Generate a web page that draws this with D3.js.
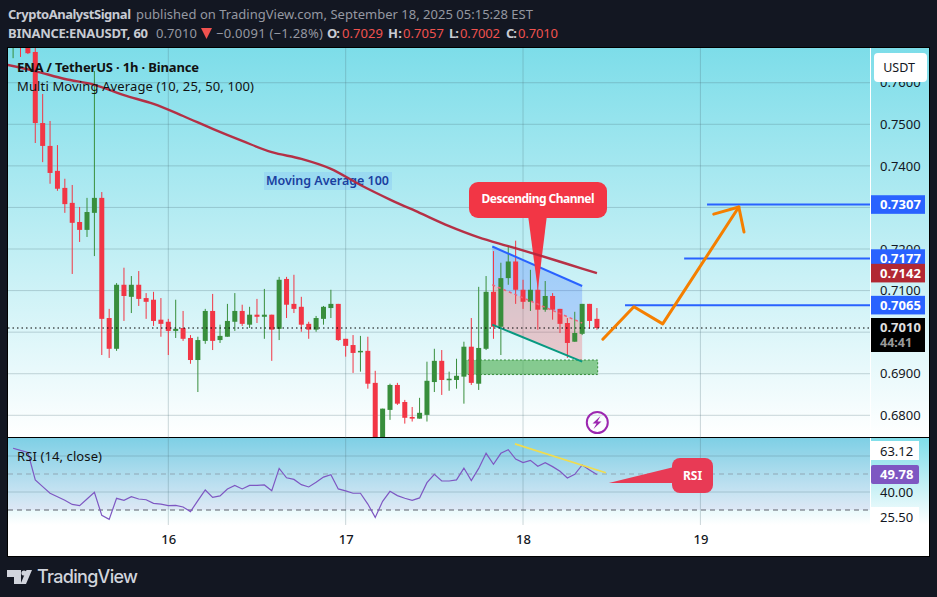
<!DOCTYPE html>
<meta charset="utf-8">
<style>
html, body { margin: 0; padding: 0; background: #131722; }
svg { display: block; }
text { font-family: "Noto Sans", sans-serif; }
</style>
<body>
<script src="https://cdn.jsdelivr.net/npm/d3@7/dist/d3.min.js"></script>
<script>

// candles, one per hour, index 0 = start of day 16
var firstIndex = -21;
var opens  = [.7693,.7727,.7703,.7674,.7503,.7448,.7388,.7347,.7311,.7265,.7246,.7287,.7323,.7034,.6960,.7114,.7085,.7114,.7082,.7078,.7030,
  .7025,.7003,.7010,.6986,.6933,.6979,.7051,.6981,.6989,.7025,.7051,.7018,.7042,.7037,.7042,.7008,.7128,.7068,.7061,.7020,.7006,.7032,.7058,.7068,.6984,.6969,.6953,.6955,.6878,
  .6729,.6813,.6873,.6832,.6796,.6792,.6801,.6880,.6931,.6885,.6885,.6893,.6965,.6876,.6960,.7097,.7013,.7130,.7170,.7102,.7073,.7102,.7054,.7087,.7056,.7022,.6977,.6996,.7068,.7032];
var highs  = [.7751,.7751,.7727,.7684,.7573,.7508,.7450,.7369,.7354,.7301,.7323,.7628,.7337,.7056,.7118,.7155,.7135,.7147,.7094,.7097,.7082,
  .7032,.7078,.7051,.6993,.6989,.7056,.7092,.7018,.7068,.7094,.7066,.7061,.7080,.7104,.7042,.7133,.7133,.7138,.7085,.7025,.7039,.7063,.7102,.7068,.6984,.6993,.6991,.6989,.6907,
  .6816,.6876,.6878,.6837,.6820,.6842,.6929,.6960,.6957,.6905,.6936,.6977,.7034,.7109,.7135,.7195,.7167,.7207,.7220,.7126,.7150,.7155,.7123,.7094,.7056,.7034,.7049,.7068,.7068,.7058];
var lows   = [.7659,.7662,.7669,.7455,.7409,.7357,.7340,.7287,.7140,.7217,.7229,.7183,.6945,.6938,.6955,.7027,.7046,.7063,.7032,.7015,.6989,
  .6945,.6986,.6979,.6924,.6856,.6972,.6957,.6974,.6989,.7003,.7015,.7010,.7022,.6984,.6931,.6981,.7034,.7046,.7001,.6984,.7001,.7018,.7034,.6979,.6941,.6902,.6905,.6864,.6729,
  .6717,.6789,.6825,.6780,.6785,.6792,.6785,.6856,.6849,.6859,.6864,.6828,.6873,.6861,.6957,.6984,.6945,.7114,.7068,.7056,.7051,.7006,.7049,.7030,.6998,.6938,.6977,.6993,.7008,.7006];
var closes = [.7727,.7693,.7671,.7503,.7448,.7383,.7345,.7308,.7263,.7246,.7289,.7323,.7032,.6960,.7114,.7087,.7114,.7080,.7073,.7027,.7020,
  .7003,.7008,.6984,.6933,.6981,.7051,.6979,.6991,.7027,.7051,.7020,.7042,.7037,.7042,.7006,.7126,.7066,.7056,.7018,.7006,.7034,.7061,.7068,.6981,.6967,.6950,.6955,.6876,.6741,
  .6816,.6873,.6828,.6794,.6792,.6806,.6883,.6931,.6885,.6888,.6895,.6965,.6878,.6962,.7097,.7013,.7130,.7170,.7102,.7073,.7102,.7054,.7087,.7054,.7020,.6974,.6998,.7068,.7027,.7010];

// moving average 100, read every few bars
var maIndex = [-22,-18,-14,-10,-6,-2,2,6,10,14,18,22,26,30,34,38,42,46,50,54,58];
var maValue = [.7644,.7628,.7609,.7595,.7570,.7549,.7520,.7489,.7460,.7433,.7417,.7393,.7354,.7319,.7287,.7255,.7228,.7207,.7186,.7164,.7142];

// RSI, same bars as the candles
var rsiValues = [64.3,63.1,62.0,46.7,43.0,39.3,37.4,35.4,33.1,32.4,36.1,39.8,27.0,24.8,36.5,35.4,37.4,36.1,35.7,33.7,33.3,
  32.4,32.6,31.7,29.1,35.2,41.1,37.0,37.8,41.7,43.7,41.7,43.7,43.7,43.9,40.7,53.1,47.9,47.0,44.1,42.8,45.4,48.3,49.6,41.7,40.6,39.3,39.3,33.3,25.9,
  34.8,40.4,38.0,36.5,35.4,36.7,45.2,49.8,46.1,46.1,46.7,53.3,46.3,53.1,61.5,55.4,61.5,63.5,58.3,56.3,57.6,54.3,56.3,54.1,51.5,47.8,49.8,55.0,52.2,49.78];

var dayTicks = [0, 24, 48, 72];
var dayLabels = ["16", "17", "18", "19"];
var priceTicks = [.76,.75,.74,.73,.72,.71,.70,.69,.68];
var rsiGrid = [60, 40];
var rsiTicks = [40];

// user drawings, [bar index, price]
var targetLevels = [.7307, .7177, .7065];
var targetStarts = [72.9, 69.8, 61.8];
var channelIdx = [43.84, 56];
var channelUpper = [.7206, .7111];
var channelMid = [.7114, .7022];
var channelLower = [.7018, .6929];
var zoneIdx = [40, 58.1];
var zonePrice = [.6933, .6898];
var arrowPath = [[58.8,.6983],[63,.7061],[66.9,.7020],[77.2,.7301]];
var arrowWings = [[73.8,.7284],[77.2,.7301],[77.9,.7241]];
var rsiTrend = [[46.9,66.7],[59.2,50.7]];

var width = 937, height = 597;
var paneLeft = 8, paneRight = 870, axisRight = 929, paneTop = 48, paneBottom = 437, rsiBottom = 525, frameBottom = 556;
var red = "#f23645", green = "#388e3c", blue = "#2962ff", maRed = "#b5263c", orange = "#f57f00";

var x = d3.scaleLinear().domain([0, 72]).range([168.3, 700.4]);
var y = d3.scaleLinear().domain([.75, .68]).range([124.3, 415.3]);
var yRsi = d3.scaleLinear().domain([40, 50]).range([492, 474]);

var svg = d3.select("body").append("svg").attr("width", width).attr("height", height);
var defs = svg.append("defs");

function gradient(id, y1, y2) {
  var g = defs.append("linearGradient").attr("id", id).attr("gradientUnits", "userSpaceOnUse")
    .attr("x1", 0).attr("x2", 0).attr("y1", y1).attr("y2", y2);
  g.append("stop").attr("offset", 0).attr("stop-color", "#7ddde9");
  g.append("stop").attr("offset", 1).attr("stop-color", "#ffffff");
}
gradient("bgMain", paneTop, paneBottom);
gradient("bgRsi", paneBottom, rsiBottom);
defs.append("clipPath").attr("id", "clipMain").append("rect")
  .attr("x", paneLeft).attr("y", paneTop).attr("width", paneRight - paneLeft).attr("height", paneBottom - paneTop);
defs.append("clipPath").attr("id", "clipRsi").append("rect")
  .attr("x", paneLeft).attr("y", paneBottom).attr("width", paneRight - paneLeft).attr("height", rsiBottom - paneBottom);

// frame and backgrounds
svg.append("rect").attr("x", paneLeft - 1).attr("y", paneTop - 1).attr("width", axisRight - paneLeft + 2).attr("height", frameBottom - paneTop + 2).attr("fill", "#000");
svg.append("rect").attr("x", paneLeft).attr("y", paneTop).attr("width", axisRight - paneLeft).attr("height", paneBottom - paneTop).attr("fill", "url(#bgMain)");
svg.append("rect").attr("x", paneLeft).attr("y", paneBottom + 1).attr("width", axisRight - paneLeft).attr("height", frameBottom - paneBottom - 1).attr("fill", "#fff");
svg.append("rect").attr("x", paneLeft).attr("y", paneBottom + 1).attr("width", axisRight - paneLeft).attr("height", rsiBottom - paneBottom - 1).attr("fill", "url(#bgRsi)");
svg.append("rect").attr("x", paneLeft).attr("y", paneBottom + 1).attr("width", paneRight - paneLeft).attr("height", yRsi(30) - paneBottom - 1).attr("fill", "#7e57c2").attr("opacity", .1);
svg.append("line").attr("x1", paneRight + .5).attr("x2", paneRight + .5).attr("y1", paneTop).attr("y2", paneBottom).attr("stroke", "#fff");
svg.append("line").attr("x1", paneRight + .5).attr("x2", paneRight + .5).attr("y1", paneBottom + 1).attr("y2", frameBottom).attr("stroke", "#fff");

// grid
var grid = svg.append("g").attr("stroke", "#4a6a78").attr("stroke-opacity", .28);
grid.selectAll(".h").data(priceTicks).enter().append("line")
  .attr("x1", paneLeft).attr("x2", paneRight).attr("y1", function(d) { return y(d); }).attr("y2", function(d) { return y(d); });
grid.selectAll(".r").data(rsiGrid).enter().append("line")
  .attr("x1", paneLeft).attr("x2", paneRight).attr("y1", function(d) { return yRsi(d); }).attr("y2", function(d) { return yRsi(d); });
grid.selectAll(".v").data(dayTicks).enter().append("line")
  .attr("x1", function(d) { return x(d); }).attr("x2", function(d) { return x(d); }).attr("y1", paneTop).attr("y2", rsiBottom);

// main pane
var main = svg.append("g").attr("clip-path", "url(#clipMain)");

main.append("rect")
  .attr("x", x(zoneIdx[0])).attr("width", x(zoneIdx[1]) - x(zoneIdx[0]))
  .attr("y", y(zonePrice[0])).attr("height", y(zonePrice[1]) - y(zonePrice[0]))
  .attr("fill", "rgba(76,175,80,.63)").attr("stroke", green).attr("stroke-dasharray", "2,2");

function band(a, b, fill) {
  main.append("path").attr("fill", fill).attr("d", d3.line()([
    [x(channelIdx[0]), y(a[0])], [x(channelIdx[1]), y(a[1])],
    [x(channelIdx[1]), y(b[1])], [x(channelIdx[0]), y(b[0])]]));
}
band(channelUpper, channelMid, "rgba(41,98,255,.24)");
band(channelMid, channelLower, "rgba(242,54,69,.25)");

function channelLine(v, color, dash, w) {
  main.append("line")
    .attr("x1", x(channelIdx[0])).attr("x2", x(channelIdx[1])).attr("y1", y(v[0])).attr("y2", y(v[1]))
    .attr("stroke", color).attr("stroke-width", w).attr("stroke-dasharray", dash);
}

var candles = d3.range(opens.length);
function candleColor(i) { return closes[i] >= opens[i] ? green : red; }

main.selectAll(".wick").data(candles).enter().append("line").attr("class", "wick")
  .attr("x1", function(i) { return x(firstIndex + i); }).attr("x2", function(i) { return x(firstIndex + i); })
  .attr("y1", function(i) { return y(highs[i]); }).attr("y2", function(i) { return y(lows[i]); })
  .attr("stroke", candleColor);
main.selectAll(".body").data(candles).enter().append("rect").attr("class", "body")
  .attr("x", function(i) { return x(firstIndex + i) - 2.5; }).attr("width", 5)
  .attr("y", function(i) { return y(Math.max(opens[i], closes[i])); })
  .attr("height", function(i) { return Math.max(1.5, Math.abs(y(opens[i]) - y(closes[i]))); })
  .attr("fill", candleColor);

channelLine(channelUpper, blue, null, 2);
channelLine(channelMid, "#f0637a", "3,3", 1.5);
channelLine(channelLower, "#089981", null, 2);

// last price
main.append("line").attr("x1", paneLeft).attr("x2", paneRight)
  .attr("y1", y(closes[closes.length - 1])).attr("y2", y(closes[closes.length - 1]))
  .attr("stroke", "#000").attr("stroke-dasharray", "1.5,3");

// targets
main.selectAll(".target").data(targetLevels).enter().append("line")
  .attr("x1", function(d, i) { return x(targetStarts[i]); }).attr("x2", paneRight)
  .attr("y1", function(d) { return y(d); }).attr("y2", function(d) { return y(d); })
  .attr("stroke", blue).attr("stroke-width", 2);

// projected move
var px = d3.line().x(function(d) { return x(d[0]); }).y(function(d) { return y(d[1]); });
main.append("path").attr("d", px(arrowPath)).attr("fill", "none").attr("stroke", orange)
  .attr("stroke-width", 3).attr("stroke-linejoin", "round").attr("stroke-linecap", "round");
main.append("path").attr("d", px(arrowWings)).attr("fill", "none").attr("stroke", orange)
  .attr("stroke-width", 3).attr("stroke-linejoin", "round").attr("stroke-linecap", "round");

// channel callout
var tipX = x(50), tipY = y(.7102);
main.append("path").attr("fill", red).attr("d", d3.line()([[528, 215], [547, 215], [tipX, tipY]]));
main.append("rect").attr("x", 469).attr("y", 182).attr("width", 138).attr("height", 36).attr("rx", 9).attr("fill", red);
main.append("text").attr("x", 538).attr("y", 203).attr("text-anchor", "middle").attr("fill", "#fff")
  .attr("font-size", 12).attr("font-weight", 700).attr("textLength", 113).text("Descending Channel");

// moving average label and line
main.append("rect").attr("x", 264).attr("y", 172).attr("width", 128).attr("height", 18).attr("fill", "rgba(41,98,255,.1)");
main.append("text").attr("x", 266).attr("y", 185).attr("fill", "#1a3fa0").attr("font-size", 12.5).attr("font-weight", 600)
  .attr("textLength", 123).text("Moving Average 100");
main.append("path")
  .attr("d", d3.line().curve(d3.curveMonotoneX).x(function(d, i) { return x(d); }).y(function(d, i) { return y(maValue[i]); })(maIndex))
  .attr("fill", "none").attr("stroke", maRed).attr("stroke-opacity", .95).attr("stroke-width", 2.4);

// lightning badge
main.append("circle").attr("cx", 597.3).attr("cy", 422.5).attr("r", 10.5).attr("fill", "none").attr("stroke", "#9c27b0").attr("stroke-width", 2);
main.append("path").attr("fill", "#9c27b0").attr("d", "M600.5,416 L592.5,423.5 L596.5,423.5 L593.5,429 L601.5,421.5 L597.5,421.5 Z");

// legend
svg.append("text").attr("x", 17).attr("y", 72).attr("fill", "#111").attr("font-size", 13).attr("font-weight", 700)
  .attr("textLength", 182).text("ENA / TetherUS · 1h · Binance");
svg.append("text").attr("x", 17).attr("y", 91).attr("fill", "#111").attr("font-size", 13)
  .attr("textLength", 237).text("Multi Moving Average (10, 25, 50, 100)");

// RSI pane
var rsi = svg.append("g").attr("clip-path", "url(#clipRsi)");
rsi.append("line").attr("x1", paneLeft).attr("x2", paneRight).attr("y1", yRsi(50)).attr("y2", yRsi(50))
  .attr("stroke", "#787b86").attr("stroke-opacity", .55).attr("stroke-dasharray", "5,4");
rsi.append("line").attr("x1", paneLeft).attr("x2", paneRight).attr("y1", yRsi(30)).attr("y2", yRsi(30))
  .attr("stroke", "#5d606b").attr("stroke-dasharray", "5,4");
rsi.append("path")
  .attr("d", d3.line().x(function(d, i) { return x(firstIndex + i); }).y(function(d) { return yRsi(d); })(rsiValues))
  .attr("fill", "none").attr("stroke", "#7e57c2").attr("stroke-width", 1.2);
rsi.append("line")
  .attr("x1", x(rsiTrend[0][0])).attr("y1", yRsi(rsiTrend[0][1])).attr("x2", x(rsiTrend[1][0])).attr("y2", yRsi(rsiTrend[1][1]))
  .attr("stroke", "#f0dc50").attr("stroke-width", 1.8);
rsi.append("path").attr("fill", "#e83a55").attr("d", d3.line()([[674, 467], [674, 483], [x(59.6), yRsi(45)]]));
rsi.append("rect").attr("x", 672).attr("y", 458).attr("width", 41).attr("height", 35).attr("rx", 8).attr("fill", "#e83a55");
rsi.append("text").attr("x", 692.5).attr("y", 480).attr("text-anchor", "middle").attr("fill", "#fff")
  .attr("font-size", 12).attr("font-weight", 700).text("RSI");
svg.append("text").attr("x", 17).attr("y", 461).attr("fill", "#111").attr("font-size", 13)
  .attr("textLength", 85).text("RSI (14, close)");

// price axis
var priceAxis = svg.append("g").attr("transform", "translate(880,0)")
  .call(d3.axisRight(y).tickValues(priceTicks).tickSize(0).tickPadding(0).tickFormat(d3.format(".4f")));
priceAxis.select(".domain").remove();
priceAxis.selectAll("text").attr("fill", "#131722").attr("font-size", 13).attr("font-family", '"Noto Sans", sans-serif');

// USDT button
svg.append("rect").attr("x", 874).attr("y", 53).attr("width", 53).attr("height", 29).attr("rx", 4).attr("fill", "#fff");
svg.append("text").attr("x", 899).attr("y", 72).attr("text-anchor", "middle").attr("fill", "#131722").attr("font-size", 12.5).text("USDT");

// price tags
var tagValues = ["0.7307", "0.7177", "0.7142", "0.7065"];
var tagPrices = [.7307, .7177, .7142, .7065];
var tagColors = [blue, blue, "#b22833", blue];
svg.selectAll(".tag").data(tagValues).enter().append("rect")
  .attr("x", 871).attr("width", 54).attr("height", 18.6)
  .attr("y", function(d, i) { return y(tagPrices[i]) - 9.3; })
  .attr("fill", function(d, i) { return tagColors[i]; });
svg.selectAll(".tagText").data(tagValues).enter().append("text")
  .attr("x", 880).attr("y", function(d, i) { return y(tagPrices[i]) + 4.6; })
  .attr("fill", "#fff").attr("font-size", 13).attr("font-weight", 700).text(function(d) { return d; });

svg.append("rect").attr("x", 871).attr("y", 318).attr("width", 54).attr("height", 34).attr("fill", "#000");
svg.append("text").attr("x", 880).attr("y", 332).attr("fill", "#e0e0e0").attr("font-size", 13).attr("font-weight", 700).text("0.7010");
svg.append("text").attr("x", 880).attr("y", 347).attr("fill", "#9a9a9a").attr("font-size", 12.5).attr("font-weight", 700).text("44:41");

// RSI axis tags
svg.append("rect").attr("x", 871).attr("y", 441).attr("width", 48).attr("height", 19).attr("fill", "#fff");
svg.append("rect").attr("x", 871).attr("y", 465).attr("width", 48).attr("height", 19).attr("rx", 2).attr("fill", "#7e57c2");
svg.append("rect").attr("x", 871).attr("y", 507).attr("width", 48).attr("height", 18).attr("fill", "#fff");
var rsiAxis = svg.append("g").attr("transform", "translate(880,0)")
  .call(d3.axisRight(yRsi).tickValues(rsiTicks).tickSize(0).tickPadding(0).tickFormat(d3.format(".2f")));
rsiAxis.select(".domain").remove();
rsiAxis.selectAll("text").attr("fill", "#131722").attr("font-size", 13).attr("font-family", '"Noto Sans", sans-serif');
svg.append("text").attr("x", 880).attr("y", 455.5).attr("fill", "#131722").attr("font-size", 13).text("63.12");
svg.append("text").attr("x", 880).attr("y", 479).attr("fill", "#fff").attr("font-size", 13).attr("font-weight", 700).text("49.78");
svg.append("text").attr("x", 880).attr("y", 521.5).attr("fill", "#131722").attr("font-size", 13).text("25.50");

// time axis
var timeAxis = svg.append("g").attr("transform", "translate(0,535)")
  .call(d3.axisBottom(x).tickValues(dayTicks).tickSize(0).tickPadding(0).tickFormat(function(d, i) { return dayLabels[i]; }));
timeAxis.select(".domain").remove();
timeAxis.selectAll("text").attr("fill", "#131722").attr("font-size", 13).attr("font-weight", 500).attr("font-family", '"Noto Sans", sans-serif');

// header
function head(t, xp, yp, len, fill, bold) {
  svg.append("text").attr("x", xp).attr("y", yp).attr("fill", fill).attr("font-size", 13)
    .attr("font-weight", bold ? 700 : 400).attr("textLength", len).text(t);
}
var hdr = "#c8cbd3", hdrDim = "#9598a1", hdrRed = "#f0524f";
head("CryptoAnalystSignal", 8, 19, 123, hdr, true);
head("published on TradingView.com, September 18, 2025 05:15:28 EST", 136, 19, 397, hdrDim);
head("BINANCE:ENAUSDT, 60", 8, 38, 140, hdr, true);
head("0.7010", 156, 38, 41, hdrDim);
svg.append("path").attr("fill", hdrRed).attr("d", "M201,28 L212,28 L206.5,39 Z");
head("−0.0091 (−1.28%)", 216, 38, 107, hdrDim);
head("O:", 327, 38, 13, hdr, true);
head("0.7029", 342, 38, 41, hdrRed);
head("H:", 388, 38, 14, hdr, true);
head("0.7057", 403, 38, 41, hdrRed);
head("L:", 449, 38, 10, hdr, true);
head("0.7002", 460, 38, 40, hdrRed);
head("C:", 506, 38, 11, hdr, true);
head("0.7010", 518, 38, 40, hdrRed);

// TradingView logo
svg.append("path").attr("fill", "#d1d4dc").attr("d", "M7,570 H21 V584 H14 V577 H7 Z M26.5,570 H32 L26,584 H20.5 Z");
svg.append("circle").attr("cx", 24).attr("cy", 573).attr("r", 2.6).attr("fill", "#d1d4dc");
svg.append("text").attr("x", 37).attr("y", 582.5).attr("fill", "#d1d4dc").attr("font-size", 18).attr("font-weight", 500)
  .style("font-family", "Inter, sans-serif").attr("textLength", 101).text("TradingView");

</script>
</body>
